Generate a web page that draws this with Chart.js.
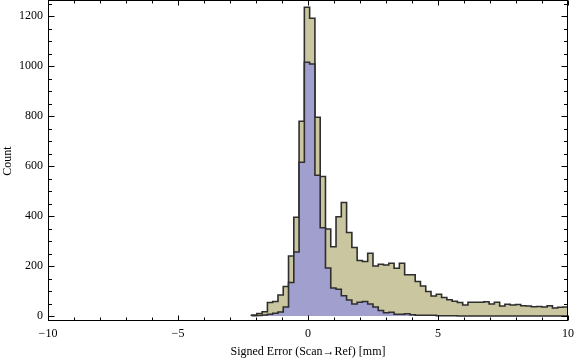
<!DOCTYPE html>
<html><head><meta charset="utf-8">
<script src="https://cdn.jsdelivr.net/npm/chart.js@4/dist/chart.umd.min.js"></script>
<style>html,body{margin:0;padding:0;background:#fff}#wrap{width:576px;height:362px}</style>
</head><body><div id="wrap"><canvas id="c" width="576" height="362"></canvas></div>
<script>
// Histogram bins
const binStart = -2.17;
const binWidth = 0.203;
const totalCounts = [4,10,17,54,58,84,118,240,395,779,
  1235,1191,795,558,348,277,397,454,334,274,
  222,218,251,200,207,204,211,191,211,165,
  165,138,120,98,80,87,74,65,59,54,
  44,55,55,55,57,48,55,40,47,44,
  46,41,40,37,38,36,41,32,35,36];
const blueCounts = [1,2,4,7,11,16,36,134,256,615,
  1015,1008,563,353,192,112,107,81,64,48,
  55,58,48,36,22,13,15,7,7,9,
  5,3,3,3,3,1,1,1,1,0,
  0,0,0,0,0,0,0,0,0,0,
  0,0,0,0,0,0,0,0,0,0];
const xMajorTicks = [-10,-5,0,5,10];
const xMinorTicks = [-9,-8,-7,-6,-4,-3,-2,-1,1,2,3,4,6,7,8,9];
const yMajorTicks = [0,200,400,600,800,1000,1200];
const yMinorTicks = [50,100,150,250,300,350,450,500,550,650,700,750,850,900,950,1050,1100,1150,1250];
const xTitle = 'Signed Error (Scan\u2192Ref) [mm]';
const yTitle = 'Count';

function stepPoints(counts){
  const pts=[{x:binStart,y:0}];
  counts.forEach((c,i)=>pts.push({x:binStart+i*binWidth,y:c}));
  const end=binStart+counts.length*binWidth;
  pts.push({x:end,y:counts[counts.length-1]});
  pts.push({x:end,y:0});
  return pts;
}

const font={family:'Liberation Serif',size:12};

const framePlugin={
  id:'frame',
  afterDatasetsDraw(chart){
    const {ctx,chartArea:a,scales:{x,y}}=chart;
    ctx.save();
    ctx.strokeStyle='#000';ctx.lineWidth=1;
    const L=a.left+0.5,R=a.right-0.5,T=a.top-0.5,B=a.bottom-0.5;
    ctx.strokeRect(L,T,R-L,B-T);
    ctx.beginPath();
    const xt=(vals,len)=>vals.forEach(v=>{const p=Math.round(x.getPixelForValue(v))+0.5;
      ctx.moveTo(p,B);ctx.lineTo(p,B-len);ctx.moveTo(p,T);ctx.lineTo(p,T+len);});
    const yt=(vals,len)=>vals.forEach(v=>{const p=Math.round(y.getPixelForValue(v))+0.5;
      ctx.moveTo(L,p);ctx.lineTo(L+len,p);ctx.moveTo(R,p);ctx.lineTo(R-len,p);});
    xt(xMajorTicks,5);xt(xMinorTicks,3);
    yt(yMajorTicks,6);yt(yMinorTicks,3.5);
    ctx.stroke();
    ctx.restore();
  }
};

new Chart(document.getElementById('c'),{
  type:'line',
  data:{datasets:[
    {data:stepPoints(blueCounts),stepped:'before',fill:'origin',backgroundColor:'#A09FCD',borderColor:'#2e2e2e',borderWidth:1.6,pointRadius:0},
    {data:stepPoints(totalCounts),stepped:'before',fill:'origin',backgroundColor:'#CAC6A0',borderColor:'#2e2e2e',borderWidth:1.6,pointRadius:0}
  ]},
  options:{
    responsive:false,animation:false,devicePixelRatio:1,
    layout:{padding:{top:1,right:8,left:0,bottom:0}},
    plugins:{legend:{display:false},tooltip:{enabled:false}},
    scales:{
      x:{type:'linear',min:-10,max:10,
        afterFit(s){s.height=41;s.paddingLeft=0;s.paddingRight=0;},
        afterBuildTicks(s){s.ticks=xMajorTicks.map(v=>({value:v}));},
        grid:{display:false,drawTicks:false},border:{display:false},
        ticks:{padding:6,font,color:'#000',maxRotation:0,autoSkip:false,
          callback:v=>v<0?'\u2212'+Math.abs(v):String(v)},
        title:{display:true,text:xTitle,font,color:'#000',padding:3}},
      y:{type:'linear',min:-20,max:1260,
        afterFit(s){s.width=48;s.paddingTop=0;s.paddingBottom=0;},
        afterBuildTicks(s){s.ticks=yMajorTicks.map(v=>({value:v}));},
        grid:{display:false,drawTicks:false},border:{display:false},
        ticks:{padding:5,font,color:'#000',autoSkip:false,callback:v=>String(v)},
        title:{display:true,text:yTitle,font,color:'#000',padding:1}}
    }
  },
  plugins:[framePlugin]
});
</script></body></html>
